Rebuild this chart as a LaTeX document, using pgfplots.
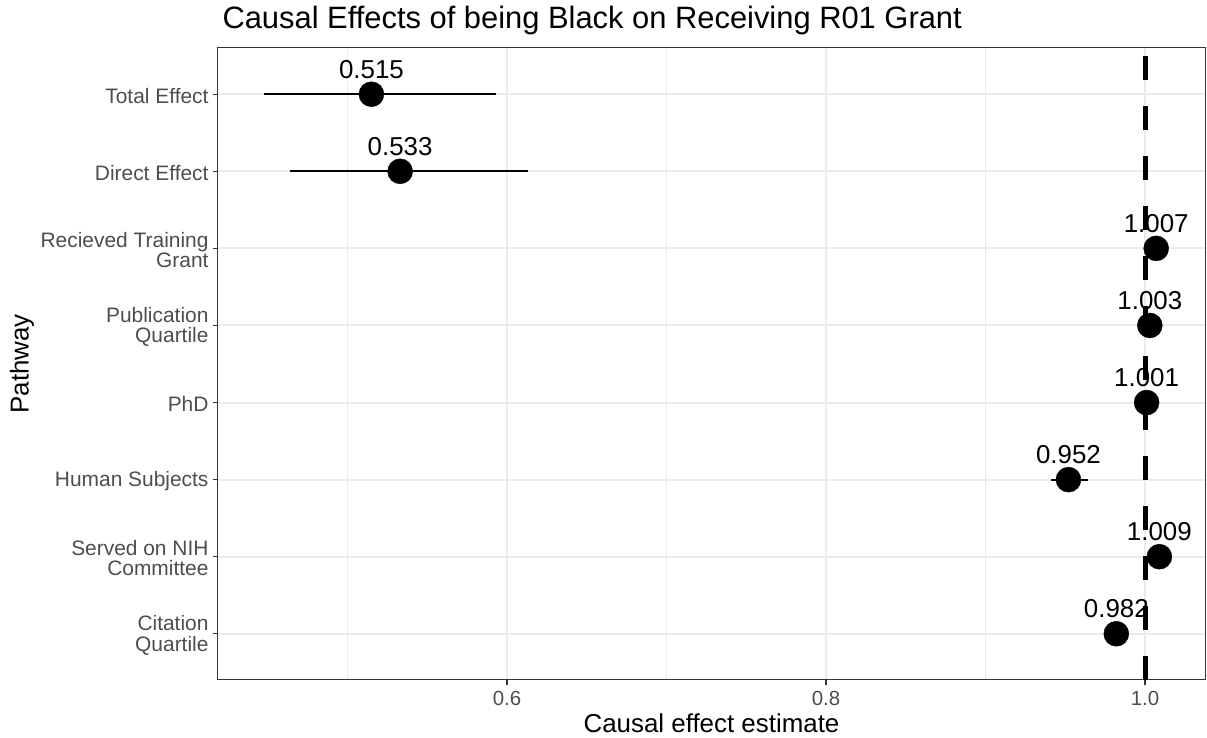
\documentclass[border=0pt]{standalone}
\usepackage{pgfplots}
\pgfplotsset{compat=1.18}
\usepackage{pgfplotstable}
\usepackage{fontspec}
\setmainfont{Liberation Sans}
\definecolor{gridc}{HTML}{EBEBEB}
\definecolor{tickc}{HTML}{4D4D4D}
\definecolor{borderc}{HTML}{333333}

\pgfplotstableread{
x y ep em lab
0.515 8 0.0781 0.0673 0.515
0.533 7 0.0800 0.0690 0.533
1.007 6 0.0030 0.0030 1.007
1.003 5 0.0025 0.0025 1.003
1.001 4 0.0020 0.0020 1.001
0.952 3 0.0120 0.0110 0.952
1.009 2 0.0030 0.0030 1.009
0.982 1 0.0030 0.0030 0.982
}\data

\begin{document}
\begin{tikzpicture}
\begin{axis}[
  name=ax,
  width=987bp, height=632bp, scale only axis,
  xmin=0.4188, xmax=1.0376, ymin=0.4, ymax=8.6,
  xtick={0.6,0.8,1.0}, xticklabels={0.6,0.8,1.0},
  minor xtick={0.5,0.7,0.9},
  ytick={1,2,3,4,5,6,7,8},
  yticklabels={Citation\\Quartile, Served on NIH\\Committee, Human Subjects, PhD, Publication\\Quartile, Recieved Training\\Grant, Direct Effect, Total Effect},
  xticklabel style={font=\fontsize{20.5}{20.5}\selectfont, text=tickc, anchor=north, yshift=-3bp},
  yticklabel style={font=\fontsize{21}{20.5}\selectfont, text=tickc, align=right, anchor=east, xshift=-1bp, yshift=-1.5bp},
  /pgf/number format/assume math mode=true,
  grid=both,
  major grid style={gridc, line width=2bp},
  minor grid style={gridc, line width=1bp},
  axis line style={borderc, line width=1bp},
  tick style={borderc, line width=1.2bp},
  tick align=outside, major tick length=5bp, minor tick length=0bp,
  xtick pos=bottom, ytick pos=left,
  title={Causal Effects of being Black on Receiving R01 Grant},
  title style={font=\fontsize{31}{31}\selectfont, at={(axis description cs:0,1)}, anchor=base west, yshift=14bp, xshift=1bp},
  xlabel={Causal effect estimate},
  xlabel style={font=\fontsize{26}{26}\selectfont, at={(axis description cs:0.5,0)}, anchor=center, yshift=-43bp},
  ylabel={Pathway},
  ylabel style={font=\fontsize{26}{26}\selectfont, at={(axis description cs:-0.1986,0.5)}, anchor=center, rotate=0},
  clip=false,
]
\addplot[only marks, mark=*, mark size=12.5bp, black,
  error bars/.cd, x dir=both, x explicit, error mark=none,
  error bar style={black, line width=2.2bp}]
  table[x=x, y=y, x error plus=ep, x error minus=em]{\data};
\addplot[only marks, mark=none, black,
  point meta=explicit symbolic,
  nodes near coords,
  nodes near coords style={font=\fontsize{26}{26}\selectfont, text=black, anchor=base, yshift=16bp}]
  table[x=x, y=y, meta=lab]{\data};
\addplot[black, line width=5bp, dash pattern=on 24bp off 26bp, mark=none]
  coordinates {(1,0.4) (1,8.6)};
\end{axis}
\path ([xshift=-218bp,yshift=-58bp]ax.south west) rectangle ([xshift=2bp,yshift=48bp]ax.north east);
\end{tikzpicture}
\end{document}
